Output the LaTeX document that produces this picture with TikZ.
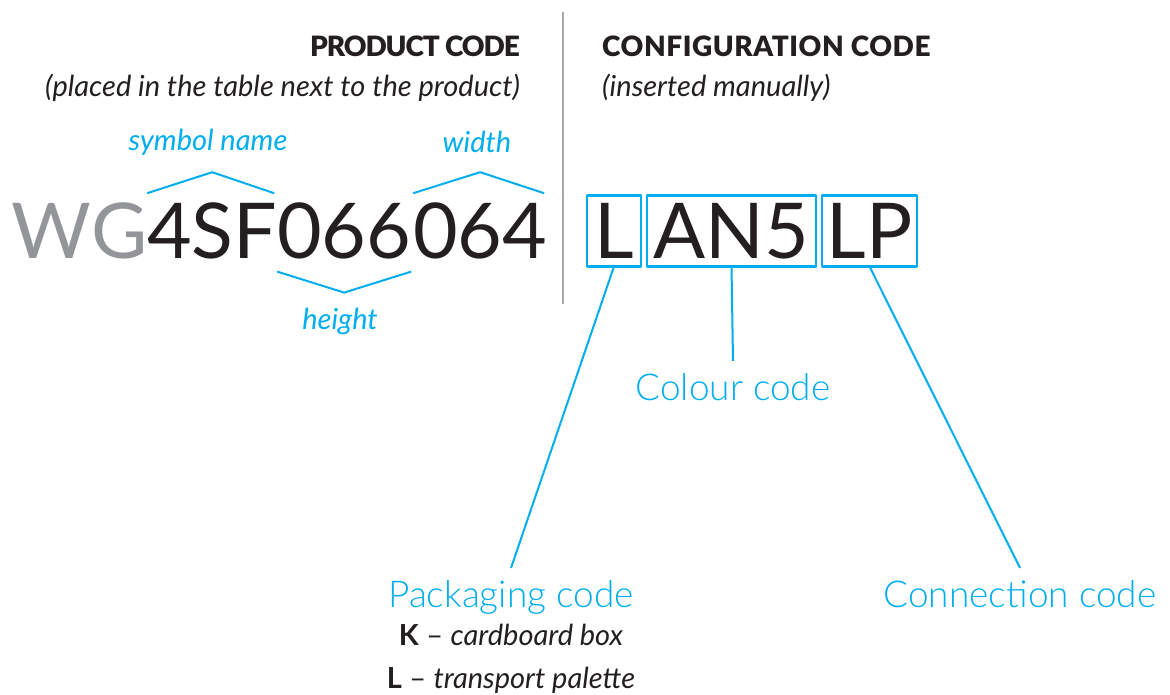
\documentclass[tikz,border=0pt]{standalone}
\usepackage{fontspec}
\setmainfont{Lato}
\newfontfamily\lightfont{Lato Light}
\newfontfamily\heavyfont{Lato Black}
\usetikzlibrary{calc,positioning}
\definecolor{codeblue}{HTML}{00AEEF}
\definecolor{codegray}{HTML}{939598}
\definecolor{codeblack}{HTML}{231F20}
\definecolor{rulegray}{HTML}{A7A9AC}
\tikzset{
  codetext/.style={inner sep=0pt,outer sep=0pt,text=codeblack,font=\fontsize{77}{80}\selectfont},
  codebox/.style={codetext,draw=codeblue,line width=2.5pt,inner xsep=0pt,inner ysep=7.5pt,text height=56pt,text depth=0pt},
  partname/.style={text=codeblue,inner xsep=0pt,inner ysep=12pt,text height=27pt,font=\lightfont\fontsize{37}{40}\selectfont},
  head/.style={inner sep=0pt,text=codeblack,font=\heavyfont\fontsize{28}{30}\selectfont},
  sub/.style={inner sep=0pt,text=codeblack,font=\itshape\fontsize{29}{32}\selectfont},
  note/.style={text=codeblue,font=\itshape\fontsize{29}{32}\selectfont},
  desc/.style={inner sep=0pt,text=codeblack,font=\fontsize{29}{32}\selectfont},
  bracket/.style={codeblue,line width=2pt},
  wire/.style={codeblue,line width=2pt}
}

\begin{document}
\begin{tikzpicture}[x=1pt,y=1pt,line join=round]
\useasboundingbox (0,0) rectangle (1170,695);
% --- headers
\node[head,anchor=base east] (prodhead) at (520,638) {\addfontfeatures{LetterSpace=-4}PRODUCT CODE};
\node[sub,anchor=base east] (prodsub) at (520,598) {(placed in the table next to the product)};
\node[head,anchor=base west] (confhead) at (602,638) {\addfontfeatures{LetterSpace=2}CONFIGURATION CODE};
\node[sub,anchor=base west] (confsub) at (602,598) {(inserted manually)};
\draw[rulegray,line width=2.5pt] (563,683) -- (563,391);
% --- product code
\node[codetext,text=codegray,anchor=base west] (wg) at (12,436) {WG};
\node[codetext,anchor=base west] (sym) at (wg.base east) {4SF};
\node[codetext,anchor=base west] (hgt) at (sym.base east) {066};
\node[codetext,anchor=base west] (wid) at ([xshift=2pt]hgt.base east) {064};
\foreach \n in {sym,wid} \draw[bracket] ($(\n.north west)+(0,10)$) -- ($(\n.north)+(0,31)$) -- ($(\n.north east)+(-3,10)$);
\draw[bracket] ($(hgt.south west)+(0,-12)$) -- ($(hgt.south)+(0,-33)$) -- ($(hgt.south east)+(0,-12)$);
\node[note] (symnote) at (208,553) {symbol name};
\node[note] (widnote) at (477,553) {width};
\node[note] (hgtnote) at (340,374) {height};
% --- configuration code
\node[codebox,minimum width=54pt,anchor=base] (pack) at (614,436) {L};
\node[codebox,minimum width=169pt,right=6pt of pack] (colour) {AN5};
\node[codebox,minimum width=95pt,right=6pt of colour] (conn) {LP};
\node[partname,anchor=north] (packname) at (511,127) {Packaging code};
\node[partname,anchor=north] (colourname) at (733,334) {Colour code};
\node[partname,anchor=north] (connname) at (1020,127) {Connection code};
\draw[wire] (pack.south) -- (packname.north);
\draw[wire] (colour.south) -- (colourname.north);
\draw[wire] (conn.south) -- (connname.north);
\node[desc,anchor=base] (kdesc) at (511,49) {\textbf{K} -- \textit{cardboard box}};
\node[desc,anchor=base] (ldesc) at (511,6) {\textbf{L} -- \textit{transport palette}};
\end{tikzpicture}
\end{document}
